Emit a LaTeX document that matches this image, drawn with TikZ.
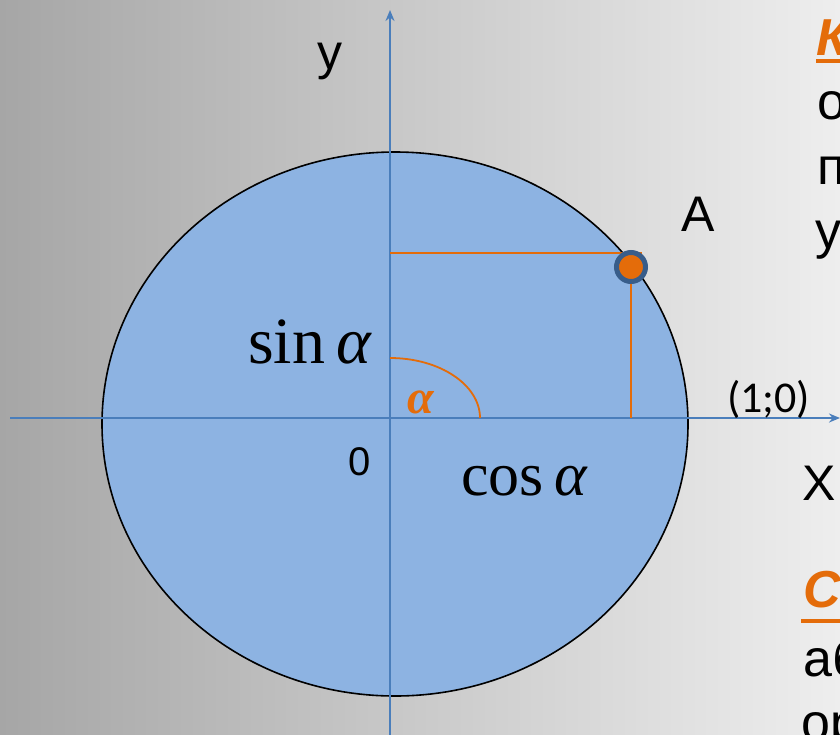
\documentclass[tikz,border=0pt]{standalone}
\usepackage{fontspec}
\setmainfont{Liberation Sans}
\newfontfamily\tnr{Liberation Serif}
\newfontfamily\carl{Carlito}
\usetikzlibrary{arrows.meta}
\definecolor{bgl}{RGB}{166,166,166}
\definecolor{bgr}{RGB}{238,238,238}
\definecolor{discfill}{RGB}{141,179,226}
\definecolor{axisblue}{RGB}{74,126,187}
\definecolor{orng}{RGB}{228,108,10}
\definecolor{ringblue}{RGB}{56,93,138}
\begin{document}
\begin{tikzpicture}[x=1pt,y=-1pt,
  lbl/.style={inner sep=0pt, anchor=base west},
  big/.style={lbl, font=\fontsize{50}{60}\selectfont},
  trig/.style={lbl, font=\tnr\fontsize{66}{78}\selectfont},
  body/.style={lbl, font=\fontsize{52}{64}\selectfont},
  head/.style={lbl, text=orng, font=\bfseries\itshape\fontsize{52}{64}\selectfont},
  axis/.style={draw=axisblue, line width=2.5pt, -{Stealth[length=11pt,width=9pt]}},
  oline/.style={draw=orng, line width=2.2pt}]
\useasboundingbox (0,0) rectangle (840,734);
\clip (0,0) rectangle (840,734);
\shade[left color=bgl, right color=bgr] (0,0) rectangle (840,734);
% disc
\coordinate (C) at (395,424);
\draw[fill=discfill, line width=1.6pt] (C) ellipse [x radius=293pt, y radius=272pt];
% axes
\coordinate (O) at (390,418);
\coordinate (xl) at (10,418);
\coordinate (xr) at (840,418);
\coordinate (yb) at (390,740);
\coordinate (yt) at (390,10);
\draw[axis] (xl) -- (xr);
\draw[axis] (yb) -- (yt);
% point A and projections
\coordinate (P) at (631,267);
\coordinate (Py) at (390,253);
\coordinate (Pr) at (642,253);
\coordinate (Px) at (631,418);
\draw[oline] (Py) -- (Pr);
\draw[oline] (P) -- (Px);
% angle arc
\coordinate (arcs) at (390,358);
\draw[orng, line width=1.8pt] (arcs) arc[start angle=90, end angle=0, x radius=90pt, y radius=60pt];
\node[draw=ringblue, fill=orng, line width=5pt, circle, minimum size=29pt, inner sep=0pt] (pt) at (P) {};
% labels
\node[big] (ylab) at (317,69) {у};
\node[big] (alab) at (681,231) {A};
\node[big] (xlab) at (802,500) {X};
\node[lbl, font=\fontsize{40}{48}\selectfont] (zero) at (348,475) {0};
\node[lbl, font=\carl\fontsize{44}{52}\selectfont] (one) at (727,412) {(1;0)};
\node[trig] (sin) at (248,363) {sin\,\itshape α};
\node[lbl, font=\tnr\fontsize{62}{74}\selectfont] (cos) at (461,495) {cos\,\itshape α};
\node[lbl, text=orng, font=\tnr\bfseries\itshape\fontsize{48}{56}\selectfont] (alpha) at (407,413) {α};
% right text
\node[head] (k) at (816,55) {К};
\draw[orng, line width=4pt] (816,61) -- (840,61);
\node[body] (l1) at (817,119) {о};
\node[body] (l2) at (817,184) {п};
\node[body] (l3) at (815,248) {у};
\node[head] (s) at (803,607) {С};
\draw[orng, line width=4pt] (801,621) -- (840,621);
\node[body] (l4) at (803,676) {аб};
\node[body] (l5) at (801,740) {ор};
\end{tikzpicture}
\end{document}
